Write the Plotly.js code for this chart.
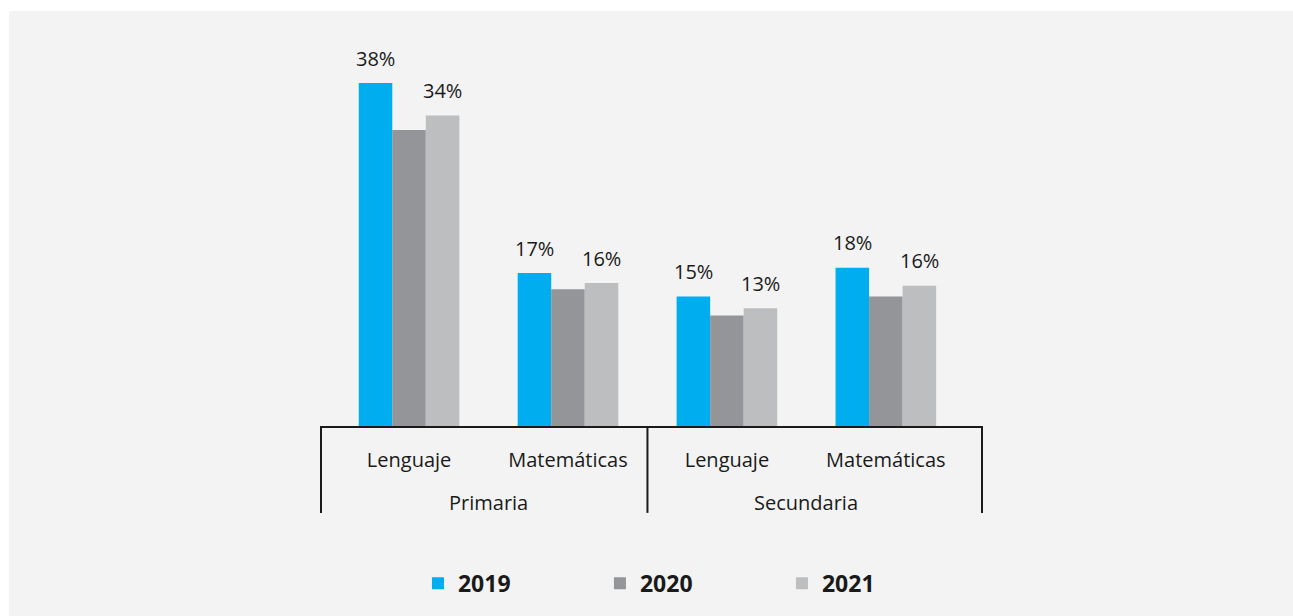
<!DOCTYPE html>
<html>
<head>
<meta charset="utf-8">
<script src="https://cdn.plot.ly/plotly-3.0.1.min.js"></script>
<style>
  html, body { margin: 0; padding: 0; background: #ffffff; }
  #grafico { position: absolute; left: 9px; top: 11px; width: 1284px; height: 605px; }
</style>
</head>
<body>
<div id="grafico"></div>
<script>
// Datos del gráfico
const niveles = ['Primaria', 'Primaria', 'Secundaria', 'Secundaria'];
const materias = ['Lenguaje', 'Matemáticas', 'Lenguaje', 'Matemáticas'];
const anios = ['2019', '2020', '2021'];
const valores2019 = [37.9, 16.9, 14.3, 17.5];
const valores2020 = [32.7, 15.1, 12.2, 14.3];
const valores2021 = [34.3, 15.8, 13.0, 15.5];
const etiquetas2019 = ['38%', '17%', '15%', '18%'];
const etiquetas2021 = ['34%', '16%', '13%', '16%'];
const colores = ['#00aeef', '#939598', '#bcbec0'];

const series = [
    { anio: anios[0], valores: valores2019, etiquetas: etiquetas2019, color: colores[0] },
    { anio: anios[1], valores: valores2020, etiquetas: null, color: colores[1] },
    { anio: anios[2], valores: valores2021, etiquetas: etiquetas2021, color: colores[2] }
];

const fuente = 'Open Sans, Noto Sans, sans-serif';
const negro = '#1a1a1a';
const BARGAP = 0.367;
const anchoBarra = (1 - BARGAP) / series.length;
const posiciones = materias.map((m, i) => i);

const trazas = series.map(s => ({
    type: 'bar',
    x: posiciones,
    y: s.valores,
    name: s.anio,
    marker: { color: s.color },
    hoverinfo: 'skip'
}));

// Etiquetas de valor sobre las barras
const anotaciones = [];
series.forEach((s, k) => {
    if (!s.etiquetas) return;
    s.etiquetas.forEach((txt, i) => {
        anotaciones.push({
            x: posiciones[i] + (k - (series.length - 1) / 2) * anchoBarra,
            y: s.valores[i],
            xref: 'x', yref: 'y',
            text: txt,
            showarrow: false,
            yanchor: 'middle',
            yshift: 25,
            font: { family: fuente, size: 20, color: negro, weight: 500 }
        });
    });
});

// Etiquetas de nivel (Primaria / Secundaria) y separadores
const grupos = [...new Set(niveles)];
const formas = [];
grupos.forEach(g => {
    const idx = posiciones.filter(i => niveles[i] === g);
    const centro = (idx[0] + idx[idx.length - 1]) / 2;
    anotaciones.push({
        x: centro, y: 0, xref: 'x', yref: 'paper',
        text: g, showarrow: false, yanchor: 'middle', yshift: -76,
        font: { family: fuente, size: 20, color: negro, weight: 500 }
    });
});
const separadores = [];
niveles.forEach((n, i) => {
    if (i > 0 && niveles[i - 1] !== n) separadores.push({ xref: 'x', x: i - 0.5 });
});
separadores.push({ xref: 'paper', x: 0 });
separadores.push({ xref: 'paper', x: 1 });
separadores.forEach(s => {
    formas.push({
        type: 'line', xref: s.xref, yref: 'paper',
        x0: s.x, x1: s.x, y0: 0, y1: -0.24,
        line: { color: negro, width: 2 }
    });
});

const layout = {
    barmode: 'group',
    bargap: BARGAP,
    bargroupgap: 0,
    paper_bgcolor: '#f2f3f2',
    plot_bgcolor: '#f2f3f2',
    margin: { l: 312, r: 311, t: 53, b: 190 },
    font: { family: fuente, color: negro },
    xaxis: {
        range: [-0.554, 3.605],
        tickvals: posiciones,
        ticktext: materias,
        ticks: '',
        ticklabelstandoff: 15,
        tickfont: { family: fuente, size: 20, color: negro, weight: 500 },
        showgrid: false,
        zeroline: false,
        showline: true,
        linecolor: negro,
        linewidth: 2
    },
    yaxis: {
        range: [0, 40],
        visible: false,
        showgrid: false,
        zeroline: false
    },
    showlegend: true,
    legend: {
        orientation: 'h',
        xref: 'container', yref: 'container',
        x: 0.3185, xanchor: 'left',
        y: 0.054, yanchor: 'middle',
        entrywidth: 137,
        font: { family: fuente, size: 23, color: negro, weight: 700 },
        bgcolor: 'rgba(0,0,0,0)'
    },
    annotations: anotaciones,
    shapes: formas
};

Plotly.newPlot('grafico', trazas, layout, { displayModeBar: false, staticPlot: true });
</script>
</body>
</html>
